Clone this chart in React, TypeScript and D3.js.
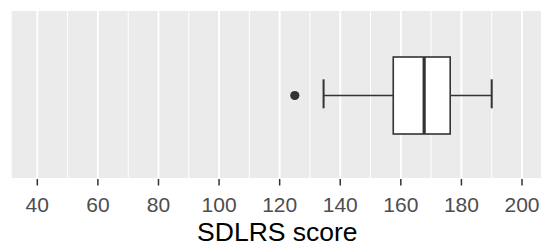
import React from "react";
import * as d3 from "d3";

const majorTicks = [40, 60, 80, 100, 120, 140, 160, 180, 200];
const minorTicks = [50, 70, 90, 110, 130, 150, 170, 190];
const boxStats = { lowerWhisker: 134.5, q1: 157.5, median: 167.7, q3: 176.3, upperWhisker: 190 };
const outliers = [125];
const axisTitle = "SDLRS score";

const W = 541;
const H = 246;
const panel = { left: 11.7, right: 541, top: 11, bottom: 178 };

export default function App() {
  const x = d3.scaleLinear().domain([40, 200]).range([37.3, 522]);
  const cy = 95.5;
  const boxTop = 57;
  const boxBottom = 134;
  const capTop = 79.3;
  const capBottom = 108.3;
  const font = "'Liberation Sans', Arial, sans-serif";
  return (
    <svg width={W} height={H} style={{ position: "absolute", left: 0, top: 0 }}>
      <rect x={0} y={0} width={W} height={H} fill="#fff" />
      <rect x={panel.left} y={panel.top} width={panel.right - panel.left} height={panel.bottom - panel.top} fill="#EBEBEB" />
      {minorTicks.map((t) => (
        <line key={"mi" + t} x1={x(t)} x2={x(t)} y1={panel.top} y2={panel.bottom} stroke="#fff" strokeWidth={1} />
      ))}
      {majorTicks.map((t) => (
        <line key={"ma" + t} x1={x(t)} x2={x(t)} y1={panel.top} y2={panel.bottom} stroke="#fff" strokeWidth={1.9} />
      ))}
      <line x1={x(boxStats.lowerWhisker)} x2={x(boxStats.q1)} y1={cy} y2={cy} stroke="#333" strokeWidth={1.5} />
      <line x1={x(boxStats.q3)} x2={x(boxStats.upperWhisker)} y1={cy} y2={cy} stroke="#333" strokeWidth={1.5} />
      <line x1={x(boxStats.lowerWhisker)} x2={x(boxStats.lowerWhisker)} y1={capTop} y2={capBottom} stroke="#333" strokeWidth={2} />
      <line x1={x(boxStats.upperWhisker)} x2={x(boxStats.upperWhisker)} y1={capTop} y2={capBottom} stroke="#333" strokeWidth={2} />
      <rect x={x(boxStats.q1)} y={boxTop} width={x(boxStats.q3) - x(boxStats.q1)} height={boxBottom - boxTop} fill="#fff" stroke="#333" strokeWidth={1.6} />
      <line x1={x(boxStats.median)} x2={x(boxStats.median)} y1={boxTop} y2={boxBottom} stroke="#333" strokeWidth={3.2} />
      {outliers.map((o, i) => (
        <circle key={i} cx={x(o)} cy={cy} r={4.6} fill="#333" />
      ))}
      {majorTicks.map((t) => (
        <g key={"t" + t}>
          <line x1={x(t)} x2={x(t)} y1={179} y2={185.5} stroke="#333" strokeWidth={1.5} />
          <text x={x(t)} y={211.7} textAnchor="middle" fontFamily={font} fontSize={21} fill="#4D4D4D">{t}</text>
        </g>
      ))}
      <text x={(panel.left + panel.right) / 2 + 1} y={240.5} textAnchor="middle" fontFamily={font} fontSize={26.5} fill="#000">{axisTitle}</text>
    </svg>
  );
}
